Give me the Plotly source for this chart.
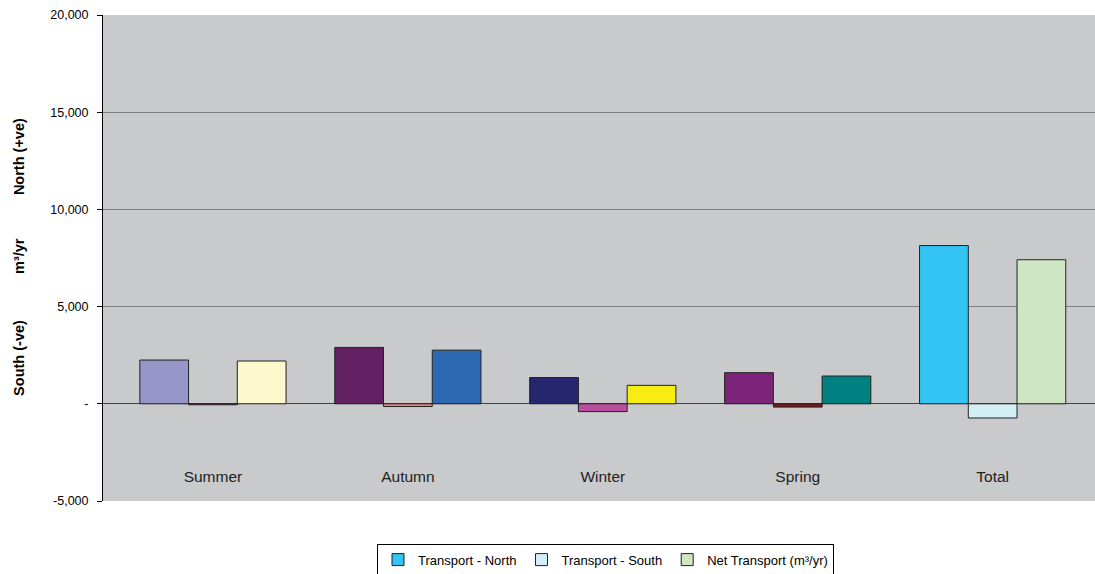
import plotly.graph_objects as go

categories = ["Summer", "Autumn", "Winter", "Spring", "Total"]
north = [2250, 2900, 1350, 1600, 8140]
south = [-50, -140, -400, -170, -730]
net = [2200, 2760, 950, 1430, 7410]

north_colors = ["#9696CA", "#621F62", "#26266F", "#7B247A", "#33C4F4"]
south_colors = ["#8E3562", "#F08080", "#B9509F", "#7B1A1A", "#D3EEF4"]
net_colors = ["#FEF9CC", "#2C67B1", "#F7EC13", "#008080", "#CFE6C4"]

series_names = ["Transport - North", "Transport - South", "Net Transport (m\u00b3/yr)"]

y_tickvals = [-5000, 0, 5000, 10000, 15000, 20000]
y_ticktext = ["-5,000", "-", "5,000", "10,000", "15,000", "20,000"]

y_title_parts = ["North (+ve)", "m\u00b3/yr", "South (-ve)"]

# legend swatch takes the first point's colour, so feed "Total" first
order = [4, 0, 1, 2, 3]

fig = go.Figure()
for name, vals, cols in zip(series_names, [north, south, net],
                            [north_colors, south_colors, net_colors]):
    fig.add_trace(go.Bar(
        name=name,
        x=[categories[i] for i in order],
        y=[vals[i] for i in order],
        marker=dict(color=[cols[i] for i in order],
                    line=dict(color="#222222", width=1)),
    ))

W, H = 1095, 574
L, R, T, B = 103, 0, 14.7, 72.7
plot_w = W - L - R
plot_h = H - T - B
FONT = "Arial, Liberation Sans, sans-serif"


def py(pix):
    return (H - B - pix) / plot_h


title_centers = [157, 256, 358]

fig.update_layout(
    width=W, height=H,
    autosize=False,
    margin=dict(l=L, r=R, t=T, b=B, pad=0, autoexpand=False),
    paper_bgcolor="white",
    plot_bgcolor="#C9CACC",
    barmode="group",
    bargap=0.25,
    bargroupgap=0,
    font=dict(family=FONT, size=12, color="#000000"),
    showlegend=True,
    legend=dict(
        orientation="h",
        x=(605.5 - L) / plot_w, xanchor="center",
        y=py(544), yanchor="top",
        bordercolor="#000000", borderwidth=1,
        font=dict(size=13, color="#000000"),
        itemwidth=30,
        traceorder="normal",
        tracegroupgap=0,
    ),
    xaxis=dict(
        type="category",
        categoryorder="array",
        categoryarray=categories,
        range=[-0.564, 4.525],
        anchor="free",
        position=py(466),
        showline=False,
        showgrid=False,
        zeroline=False,
        ticks="",
        tickfont=dict(size=15.5, color="#222222"),
    ),
    yaxis=dict(
        range=[-5000, 20000],
        tickvals=y_tickvals,
        ticktext=y_ticktext,
        showgrid=True,
        gridcolor="#808080",
        gridwidth=1,
        zeroline=True,
        zerolinecolor="#404040",
        zerolinewidth=1,
        showline=True,
        linecolor="#000000",
        linewidth=1,
        ticks="outside",
        ticklen=5,
        tickcolor="#000000",
        ticklabelstandoff=6,
        tickfont=dict(size=12.5, color="#000000"),
    ),
    annotations=[dict(
        text="<b>" + t + "</b>",
        textangle=-90,
        xref="paper", yref="paper",
        x=(19 - L) / plot_w, y=py(c),
        xanchor="center", yanchor="middle",
        showarrow=False,
        font=dict(size=14.5, color="#000000", family=FONT),
    ) for t, c in zip(y_title_parts, title_centers)],
)

fig.write_html(
    "out.html",
    config={"responsive": False, "displayModeBar": False},
    post_script="document.body.style.margin='0px';document.body.style.overflow='hidden';",
)
